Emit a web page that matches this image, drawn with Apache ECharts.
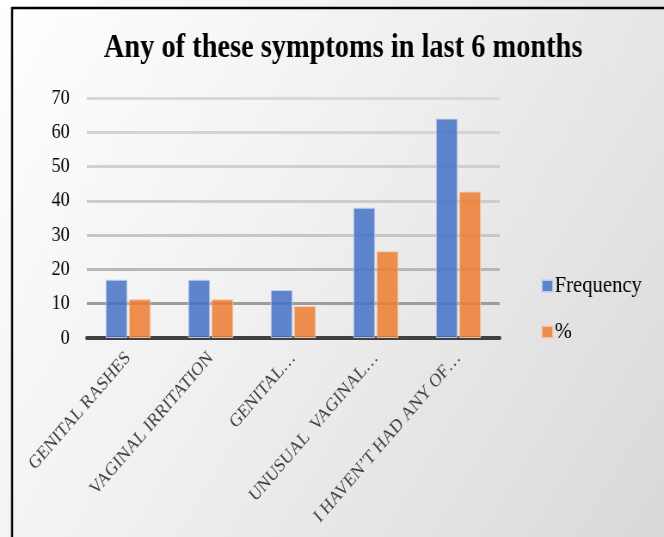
<!DOCTYPE html>
<html>
<head>
<meta charset="utf-8">
<style>
  html, body { margin: 0; padding: 0; background: #ffffff; overflow: hidden; }
  #wrap { width: 664px; height: 537px; overflow: hidden; position: relative; }
  /* the chart is laid out wide and then narrowed, giving the tall, condensed lettering */
  #chart { width: 772px; height: 537px; transform: scaleX(0.86); transform-origin: 0 0; }
</style>
<script src="https://cdn.jsdelivr.net/npm/echarts@6/dist/echarts.min.js"></script>
</head>
<body>
<div id="wrap"><div id="chart"></div></div>
<script>
// Symptom categories (labels as shown on the axis)
const categories = [
  'GENITAL RASHES',
  'VAGINAL IRRITATION',
  'GENITAL…',
  'UNUSUAL  VAGINAL…',
  'I HAVEN’T HAD ANY OF…'
];
// Number of respondents reporting each symptom
const frequency = [17, 17, 14, 38, 64];
// Share of respondents (%)
const percent = [11.3, 11.3, 9.3, 25.3, 42.7];
// Value axis ticks
const yTicks = [0, 10, 20, 30, 40, 50, 60, 70];

const SERIF = '"Liberation Serif", "Times New Roman", serif';

const chart = echarts.init(document.getElementById('chart'), null, { renderer: 'canvas' });

chart.setOption({
  backgroundColor: {
    type: 'linear', x: 0, y: 0, x2: 1, y2: 1,
    colorStops: [
      { offset: 0, color: '#ffffff' },
      { offset: 0.45, color: '#f0f0f0' },
      { offset: 1, color: '#d9d9d9' }
    ]
  },
  animation: false,
  title: {
    text: 'Any of these symptoms in last 6 months',
    left: 394,
    textAlign: 'center',
    top: 27,
    textStyle: {
      fontFamily: SERIF,
      fontWeight: 'bold',
      fontSize: 33,
      color: '#000000'
    }
  },
  legend: {
    orient: 'vertical',
    left: 624,
    top: 269,
    itemWidth: 13,
    itemHeight: 12,
    itemGap: 22,
    icon: 'rect',
    textStyle: { fontFamily: SERIF, fontSize: 24, color: '#000000', padding: [0, 0, 0, -3] },
    data: ['Frequency', '%']
  },
  grid: {
    left: 101,
    right: 191,
    top: 98,
    bottom: 199,
    containLabel: false
  },
  xAxis: {
    type: 'category',
    data: categories,
    axisLine: { lineStyle: { color: '#404040', width: 4 } },
    axisTick: { show: false },
    axisLabel: {
      rotate: 45,
      interval: 0,
      margin: 17,
      fontFamily: SERIF,
      fontSize: 19,
      color: '#404040'
    }
  },
  yAxis: {
    type: 'value',
    min: yTicks[0],
    max: yTicks[yTicks.length - 1],
    interval: 10,
    axisLine: { show: false },
    axisTick: { show: false },
    axisLabel: {
      margin: 20,
      fontFamily: SERIF,
      fontSize: 21,
      color: '#000000'
    },
    splitLine: {
      lineStyle: {
        width: 3,
        color: ['#404040', '#9c9c9c', '#b8b8b8', '#c6c6c6', '#cccccc', '#d0d0d0', '#d4d4d4', '#d8d8d8']
      }
    }
  },
  graphic: [
    {
      type: 'rect',
      shape: { x: 14, y: 8, width: 800, height: 560 },
      style: { fill: 'none', stroke: '#000000', lineWidth: 2.5 },
      silent: true
    }
  ],
  series: [
    {
      name: 'Frequency',
      type: 'bar',
      data: frequency,
      barWidth: 25.5,
      barGap: '6%',
      itemStyle: { color: '#4472c4', opacity: 0.85, borderColor: '#c9d6ee', borderWidth: 1 }
    },
    {
      name: '%',
      type: 'bar',
      data: percent,
      barWidth: 25.5,
      itemStyle: { color: '#ed7d31', opacity: 0.85, borderColor: '#f6cfb3', borderWidth: 1 }
    }
  ]
});
</script>
</body>
</html>
